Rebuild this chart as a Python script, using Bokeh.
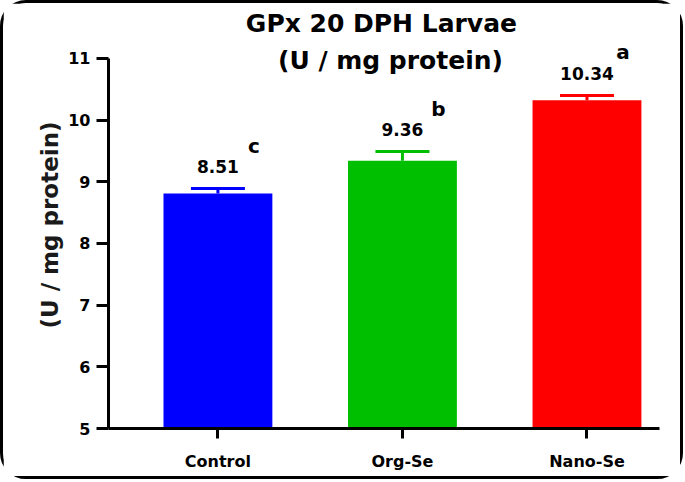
from bokeh.plotting import figure
from bokeh.models import Range1d, FixedTicker, Label, Title, ColumnDataSource
from bokeh.core.properties import value
from bokeh.embed import file_html
from bokeh.resources import INLINE

categories = ["Control", "Org-Se", "Nano-Se"]
means = [8.81, 9.34, 10.32]
errors = [0.08, 0.15, 0.08]
value_labels = ["8.51", "9.36", "10.34"]
letters = ["c", "b", "a"]
colors = ["#0000FF", "#00BF00", "#FF0000"]
y_ticks = [5, 6, 7, 8, 9, 10, 11]
title_lines = ["GPx 20 DPH Larvae", "(U / mg protein)"]
y_label = "(U / mg protein)"

FONT = value("DejaVu Sans")

positions = list(range(len(categories)))
tops = [m + e for m, e in zip(means, errors)]

src = ColumnDataSource(dict(x=positions, mean=means, top=tops, label=value_labels,
                            letter=letters, color=colors))

p = figure(width=683, height=479, output_backend="svg", toolbar_location=None,
           x_range=Range1d(-0.593, 2.393), y_range=Range1d(5, 11.89),
           min_border_left=105, min_border_right=27, min_border_top=0, min_border_bottom=54)
p.outline_line_color = None
p.grid.visible = False
p.background_fill_color = "white"
p.border_fill_color = "white"

p.vbar(x="x", top="mean", bottom=5, width=0.59, fill_color="color", line_color=None, source=src)
p.segment(x0="x", y0="mean", x1="x", y1="top", line_color="color", line_width=3, source=src)
p.scatter(x="x", y="top", marker="dash", size=54, line_color="color", line_width=3, source=src)

p.text(x="x", y="top", text="label", text_align="center", text_baseline="middle",
       y_offset=-22, text_font=FONT, text_font_style="bold", text_font_size="17px",
       text_color="black", source=src)
p.text(x="x", y="top", text="letter", text_align="center", text_baseline="middle",
       x_offset=36, y_offset=-43, text_font=FONT, text_font_style="bold", text_font_size="20px",
       text_color="black", source=src)

p.add_layout(Label(x=0.886, y=11.567, text=title_lines[0], text_align="center",
                   text_baseline="middle", text_font="DejaVu Sans", text_font_style="bold",
                   text_font_size="25px", text_color="black"))
p.add_layout(Label(x=0.935, y=10.967, text=title_lines[1], text_align="center",
                   text_baseline="middle", text_font="DejaVu Sans", text_font_style="bold",
                   text_font_size="25px", text_color="black"))

for ax in (p.xaxis, p.yaxis):
    ax.axis_line_width = 3
    ax.axis_line_color = "black"
    ax.major_tick_line_width = 3
    ax.major_tick_line_color = "black"
    ax.major_tick_in = 0
    ax.minor_tick_out = 0
    ax.minor_tick_in = 0
    ax.major_label_text_font = "DejaVu Sans"
    ax.major_label_text_font_style = "bold"
    ax.major_label_text_font_size = "16px"
    ax.major_label_text_color = "black"

p.yaxis.bounds = (5, 11)
p.yaxis.ticker = FixedTicker(ticks=y_ticks)
p.yaxis.major_tick_out = 12
p.yaxis.major_label_standoff = 6

# y-axis title as a vertical title in the left panel, shifted to match the reference
p.add_layout(Title(text=y_label, align="left", offset=100, standoff=6,
                   text_font="DejaVu Sans", text_font_style="bold",
                   text_font_size="23px", text_color="#1a1a1a"), "left")

p.xaxis.ticker = FixedTicker(ticks=positions)
p.xaxis.major_label_overrides = {i: c for i, c in zip(positions, categories)}
p.xaxis.major_tick_out = 10
p.xaxis.major_label_standoff = 13

p.styles = {"border": "3px solid black", "border-radius": "26px"}

open("out.html", "w").write(file_html(p, INLINE))
